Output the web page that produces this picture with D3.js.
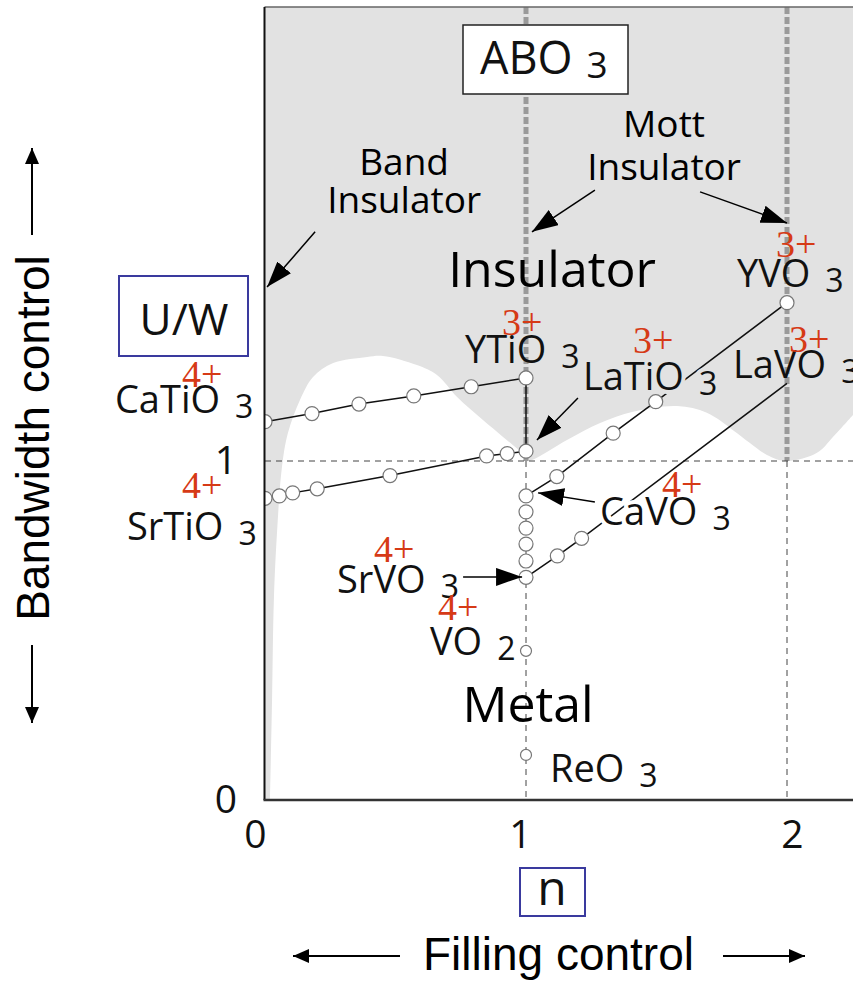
<!DOCTYPE html>
<html>
<head>
<meta charset="utf-8">
<script src="https://cdn.jsdelivr.net/npm/d3@7"></script>
<style>
  body { margin: 0; background: #fff; }
  svg { display: block; }
</style>
</head>
<body>
<svg id="chart"></svg>
<script>
// metal / insulator boundary (n, U/W)
const boundaryN = [0.019, 0.027, 0.034, 0.046, 0.065, 0.088, 0.134, 0.184, 0.261, 0.391, 0.452,
  0.582, 0.659, 0.736, 0.835, 0.912, 0.989, 1.0, 1.023, 1.157, 1.284, 1.41, 1.579, 1.693,
  1.793, 1.858, 1.923, 2.0, 2.115, 2.176, 2.253];
const boundaryU = [0, 0.295, 0.59, 0.788, 0.982, 1.083, 1.18, 1.248, 1.289, 1.307, 1.31,
  1.283, 1.254, 1.189, 1.121, 1.071, 1.018, 1.0, 1.003, 1.062, 1.112, 1.145, 1.162, 1.142,
  1.091, 1.053, 1.018, 1.0, 1.024, 1.071, 1.136];

// Ca(1-x)Y(x)TiO3
const caYTiN = [0, 0.18, 0.36, 0.57, 0.79, 1.0];
const caYTiU = [1.116, 1.14, 1.168, 1.192, 1.219, 1.245];
// Sr(1-x)La(x)TiO3
const srLaTiN = [0, 0.055, 0.106, 0.2, 0.479, 0.849, 0.928, 1.0];
const srLaTiU = [0.89, 0.897, 0.906, 0.918, 0.957, 1.015, 1.022, 1.029];
// Ca(1-x)Y(x)VO3
const caYVN = [1, 1.118, 1.334, 1.497, 2];
const caYVU = [0.897, 0.954, 1.082, 1.175, 1.467];
// Sr(1-x)La(x)VO3 (no point at LaVO3)
const srLaVN = [1, 1.12, 1.213];
const srLaVU = [0.657, 0.72, 0.772];
const laVO3 = [2, 1.229];
// Ca(1-x)Sr(x)VO3 at n = 1
const caSrVU = [0.897, 0.85, 0.802, 0.755, 0.705, 0.657];
// single oxides at n = 1
const singleU = [0.44, 0.133];

// compound labels
const formulas = ['CaTiO', 'SrTiO', 'YTiO', 'LaTiO', 'YVO', 'LaVO', 'CaVO', 'SrVO', 'VO', 'ReO'];
const subs = ['3', '3', '3', '3', '3', '3', '3', '3', '2', '3'];
const valences = ['4+', '4+', '3+', '3+', '3+', '3+', '4+', '4+', '4+', ''];

const xTicks = [0, 1, 2];
const yTicks = [0, 1];

// ---- layout ----
const W = 853, H = 981;
const x = d3.scaleLinear().domain([0, 2]).range([265, 787]);
const y = d3.scaleLinear().domain([0, 1]).range([800, 461]);
const pLeft = 265, pRight = W, pTop = 7, pBottom = 800;
const nMax = x.invert(pRight), uMax = y.invert(pTop);

const sans = '"Open Sans", "Noto Sans", sans-serif';
const arial = '"Liberation Sans", Arial, sans-serif';
const serif = '"Liberation Serif", "Times New Roman", serif';
const grey = '#e2e2e2';
const red = '#d63a16';

const svg = d3.select('#chart').attr('width', W).attr('height', H);
const defs = svg.append('defs');
defs.append('clipPath').attr('id', 'plot')
  .append('rect').attr('x', pLeft).attr('y', pTop).attr('width', pRight - pLeft).attr('height', pBottom - pTop);

function marker(id, len, half) {
  defs.append('marker')
    .attr('id', id).attr('markerUnits', 'userSpaceOnUse')
    .attr('viewBox', `0 ${-half} ${len} ${half * 2}`)
    .attr('refX', len).attr('refY', 0)
    .attr('markerWidth', len).attr('markerHeight', half * 2)
    .attr('orient', 'auto')
    .append('path').attr('d', `M0,${-half}L${len},0L0,${half}Z`).attr('fill', '#000');
}
marker('head', 26, 9);
marker('small', 16, 7);

const g = svg.append('g').attr('clip-path', 'url(#plot)');

// grey insulator background and white metal region
g.append('rect').attr('x', pLeft).attr('y', pTop).attr('width', pRight - pLeft).attr('height', pBottom - pTop)
  .attr('fill', grey);

const boundary = boundaryN.map((n, i) => ({n, u: boundaryU[i]}));
g.append('path').datum(boundary)
  .attr('fill', '#fff')
  .attr('d', d3.area().x(d => x(d.n)).y0(y(0)).y1(d => y(d.u)).curve(d3.curveCatmullRom));

// Mott lines (thick grey dashes) above U/W = 1, thin dashes below
g.selectAll('.mott').data([1, 2]).enter().append('line')
  .attr('x1', d => x(d)).attr('x2', d => x(d))
  .attr('y1', y(uMax)).attr('y2', y(1))
  .attr('stroke', '#9a9a9a').attr('stroke-width', 5).attr('stroke-dasharray', '7,3');

g.selectAll('.guide').data([1, 2]).enter().append('line')
  .attr('x1', d => x(d)).attr('x2', d => x(d))
  .attr('y1', y(1)).attr('y2', y(0))
  .attr('stroke', '#444').attr('stroke-width', 1).attr('stroke-dasharray', '6,5');

g.append('line')
  .attr('x1', x(0)).attr('x2', x(nMax)).attr('y1', y(1)).attr('y2', y(1))
  .attr('stroke', '#444').attr('stroke-width', 1).attr('stroke-dasharray', '6,5');

// region labels
const regions = [
  {text: 'Insulator', n: 1.10, u: 1.513, size: 50},
  {text: 'Metal', n: 1.008, u: 0.23, size: 50},
  {text: 'Band', n: 0.533, u: 1.844, size: 37},
  {text: 'Insulator', n: 0.533, u: 1.732, size: 37},
  {text: 'Mott', n: 1.529, u: 1.956, size: 37},
  {text: 'Insulator', n: 1.529, u: 1.829, size: 37}
];
g.selectAll('.region').data(regions).enter().append('text')
  .attr('x', d => x(d.n)).attr('y', d => y(d.u))
  .attr('text-anchor', 'middle')
  .style('font-family', sans).style('font-size', d => d.size + 'px')
  .text(d => d.text);

// composition lines
const line = d3.line().x(d => x(d[0])).y(d => y(d[1]));
const zip = (a, b) => a.map((v, i) => [v, b[i]]);
const paths = [
  zip(caYTiN, caYTiU),
  zip(srLaTiN, srLaTiU),
  zip(caYVN, caYVU),
  zip(srLaVN, srLaVU).concat([laVO3]),
  [[1, caYTiU[caYTiU.length - 1]], [1, srLaTiU[srLaTiU.length - 1]]]
];
g.selectAll('.comp').data(paths).enter().append('path')
  .attr('d', line).attr('fill', 'none')
  .attr('stroke', '#111').attr('stroke-width', 1.5);

// compound labels (data coords of text start; valence offset in px; halo colour)
const labelAt = [
  {n: -0.575, u: 1.142, dx: 67, dy: -26},
  {n: -0.529, u: 0.767, dx: 55, dy: -42},
  {n: 0.766, u: 1.289, dx: 37, dy: -28},
  {n: 1.218, u: 1.209, dx: 50, dy: -37, halo: grey},
  {n: 1.808, u: 1.513, dx: 39, dy: -30},
  {n: 1.793, u: 1.245, dx: 56, dy: -26},
  {n: 1.284, u: 0.811, dx: 62, dy: -28, halo: '#fff'},
  {n: 0.276, u: 0.611, dx: 37, dy: -31},
  {n: 0.632, u: 0.428, dx: 8, dy: -35},
  {n: 1.092, u: 0.053, dx: 0, dy: 0}
];
const labels = svg.append('g').selectAll('g').data(formulas).enter().append('g')
  .attr('transform', (d, i) => `translate(${x(labelAt[i].n)},${y(labelAt[i].u)})`);

const ft = labels.append('text')
  .style('font-family', sans).style('font-size', '38px').attr('fill', '#111')
  .attr('stroke', (d, i) => labelAt[i].halo || 'none')
  .attr('stroke-width', 8).attr('paint-order', 'stroke').attr('stroke-linejoin', 'round');
ft.append('tspan').text(d => d);
ft.append('tspan').attr('dx', 15).attr('dy', 5).style('font-size', '32px').text((d, i) => subs[i]);

labels.append('text')
  .attr('x', (d, i) => labelAt[i].dx).attr('y', (d, i) => labelAt[i].dy)
  .style('font-family', serif).style('font-size', '38px').attr('fill', red)
  .text((d, i) => valences[i]);

// points
const pts = [];
caYTiN.forEach((n, i) => pts.push({n, u: caYTiU[i], r: 7}));
srLaTiN.forEach((n, i) => pts.push({n, u: srLaTiU[i], r: 7}));
caYVN.slice(1).forEach((n, i) => pts.push({n, u: caYVU[i + 1], r: 7}));
srLaVN.slice(1).forEach((n, i) => pts.push({n, u: srLaVU[i + 1], r: 7}));
caSrVU.forEach(u => pts.push({n: 1, u, r: 7}));
singleU.forEach(u => pts.push({n: 1, u, r: 5.5}));

svg.append('g').attr('clip-path', 'url(#plot)').selectAll('circle').data(pts).enter().append('circle')
  .attr('cx', d => x(d.n)).attr('cy', d => y(d.u)).attr('r', d => d.r)
  .attr('fill', '#fff').attr('stroke', '#777').attr('stroke-width', 1.2);

// annotation arrows
const arrows = [
  [[0.192, 1.676], [0.008, 1.513]],
  [[1.264, 1.799], [1.023, 1.676]],
  [[1.667, 1.794], [2.0, 1.702]],
  [[1.199, 1.186], [1.042, 1.062]],
  [[1.264, 0.879], [1.046, 0.906]],
  [[0.759, 0.658], [0.985, 0.658]]
];
svg.append('g').selectAll('line').data(arrows).enter().append('line')
  .attr('x1', d => x(d[0][0])).attr('y1', d => y(d[0][1]))
  .attr('x2', d => x(d[1][0])).attr('y2', d => y(d[1][1]))
  .attr('stroke', '#000').attr('stroke-width', 1.5)
  .attr('marker-end', 'url(#head)');

// ABO3 box
svg.append('rect').attr('x', 463).attr('y', 25).attr('width', 165).attr('height', 69)
  .attr('fill', '#fff').attr('stroke', '#222').attr('stroke-width', 1.5);
const abo = svg.append('text').attr('x', 480).attr('y', 74)
  .style('font-family', sans).style('font-size', '45px').attr('fill', '#111');
abo.append('tspan').text('ABO');
abo.append('tspan').attr('dx', 14).attr('dy', 4).style('font-size', '37px').text('3');

// frame
svg.append('line').attr('x1', pLeft - 0.5).attr('x2', pRight).attr('y1', pTop).attr('y2', pTop)
  .attr('stroke', '#666').attr('stroke-width', 1.5);
svg.append('line').attr('x1', pLeft - 0.5).attr('x2', pLeft - 0.5).attr('y1', pTop).attr('y2', pBottom)
  .attr('stroke', '#111').attr('stroke-width', 2);
svg.append('line').attr('x1', pLeft - 1.5).attr('x2', pRight).attr('y1', pBottom).attr('y2', pBottom)
  .attr('stroke', '#333').attr('stroke-width', 2.5);

// axes
const xAxis = svg.append('g').attr('transform', `translate(0,${pBottom})`)
  .call(d3.axisBottom(x).tickValues(xTicks).tickSize(0).tickPadding(20).tickFormat(d3.format('d')));
const yAxis = svg.append('g').attr('transform', `translate(${pLeft},0)`)
  .call(d3.axisLeft(y).tickValues(yTicks).tickSize(0).tickPadding(28).tickFormat(d3.format('d')));
[xAxis, yAxis].forEach(a => {
  a.select('.domain').remove();
  a.selectAll('text').style('font-family', sans).style('font-size', '39px').attr('fill', '#111');
});
xAxis.selectAll('.tick text').attr('dx', d => d === 0 ? -10 : d === 1 ? -6 : 5);

// axis variable boxes
svg.append('rect').attr('x', 119).attr('y', 276).attr('width', 129).attr('height', 80)
  .attr('fill', 'none').attr('stroke', '#3a3a9e').attr('stroke-width', 2);
svg.append('text').attr('x', 184).attr('y', 335).attr('text-anchor', 'middle')
  .style('font-family', sans).style('font-size', '44px').attr('fill', '#111').text('U/W');

svg.append('rect').attr('x', 520).attr('y', 868).attr('width', 65).attr('height', 48)
  .attr('fill', 'none').attr('stroke', '#3a3a9e').attr('stroke-width', 2);
svg.append('text').attr('x', 552).attr('y', 905).attr('text-anchor', 'middle')
  .style('font-family', sans).style('font-size', '48px').attr('fill', '#111').text('n');

// control labels with arrows
svg.append('text').attr('x', 423).attr('y', 970)
  .style('font-family', arial).style('font-size', '46px').attr('fill', '#000').text('Filling control');
svg.append('text').attr('transform', 'translate(49,438) rotate(-90)').attr('text-anchor', 'middle')
  .style('font-family', arial).style('font-size', '46px').attr('fill', '#000').text('Bandwidth control');

const ctrlArrows = [
  [[400, 956], [293, 956]],
  [[723, 956], [805, 956]],
  [[32, 235], [32, 148]],
  [[32, 645], [32, 723]]
];
svg.append('g').selectAll('line').data(ctrlArrows).enter().append('line')
  .attr('x1', d => d[0][0]).attr('y1', d => d[0][1])
  .attr('x2', d => d[1][0]).attr('y2', d => d[1][1])
  .attr('stroke', '#000').attr('stroke-width', 2)
  .attr('marker-end', 'url(#small)');
</script>
</body>
</html>
